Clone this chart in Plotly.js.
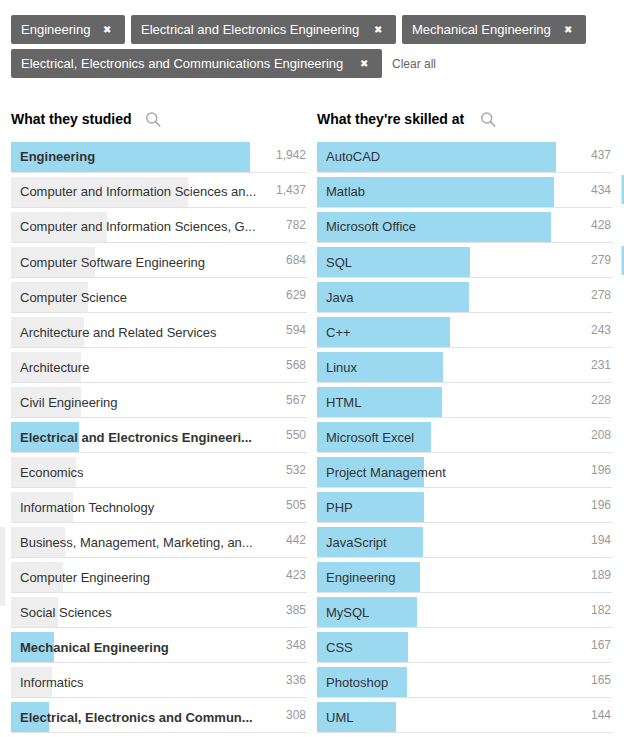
<!DOCTYPE html>
<html>
<head>
<meta charset="utf-8">
<script src="https://cdn.plot.ly/plotly-3.0.1.min.js"></script>
<style>
html,body{margin:0;padding:0;background:#fff;}
#chart{width:624px;height:737px;}
</style>
</head>
<body>
<div id="chart"></div>
<script>
// ---- data ----
const filterChips = ["Engineering", "Electrical and Electronics Engineering", "Mechanical Engineering", "Electrical, Electronics and Communications Engineering"];
const studiedTitle = "What they studied";
const skilledTitle = "What they're skilled at";
const studiedLabels = [
  "Engineering",
  "Computer and Information Sciences an...",
  "Computer and Information Sciences, G...",
  "Computer Software Engineering",
  "Computer Science",
  "Architecture and Related Services",
  "Architecture",
  "Civil Engineering",
  "Electrical and Electronics Engineeri...",
  "Economics",
  "Information Technology",
  "Business, Management, Marketing, an...",
  "Computer Engineering",
  "Social Sciences",
  "Mechanical Engineering",
  "Informatics",
  "Electrical, Electronics and Commun..."
];
const studiedValues = [1942, 1437, 782, 684, 629, 594, 568, 567, 550, 532, 505, 442, 423, 385, 348, 336, 308];
const studiedSelected = [true, false, false, false, false, false, false, false, true, false, false, false, false, false, true, false, true];
const skillLabels = ["AutoCAD", "Matlab", "Microsoft Office", "SQL", "Java", "C++", "Linux", "HTML", "Microsoft Excel", "Project Management", "PHP", "JavaScript", "Engineering", "MySQL", "CSS", "Photoshop", "UML"];
const skillValues = [437, 434, 428, 279, 278, 243, 231, 228, 208, 196, 196, 194, 189, 182, 167, 165, 144];

// ---- styling ----
const W = 624, H = 737;
const BLUE = "#9bd9f1", GREY = "#eeeeee", CHIP = "#666666", LINE = "#e2e2e2";
const FONT = "'Liberation Sans', Arial, sans-serif";
const px = x => x / W;
const py = y => 1 - y / H;
const nRows = studiedLabels.length;
const rowPitch = 35, firstCenter = 157;
const yTop = firstCenter - rowPitch / 2, yBot = firstCenter + (nRows - 0.5) * rowPitch;
const fillFrac = 239 / 296;

const fmt = v => v.toLocaleString("en-US");

const traces = [
  {
    type: "bar", orientation: "h",
    x: studiedValues, y: studiedLabels,
    xaxis: "x", yaxis: "y",
    marker: {color: studiedSelected.map(s => s ? BLUE : GREY), line: {width: 0}},
    width: 30 / 35, hoverinfo: "none"
  },
  {
    type: "bar", orientation: "h",
    x: skillValues, y: skillLabels,
    xaxis: "x2", yaxis: "y2",
    marker: {color: BLUE, line: {width: 0}},
    width: 30 / 35, hoverinfo: "none"
  }
];

const leftMax = Math.max(...studiedValues) / fillFrac;
const rightMax = Math.max(...skillValues) / (239 / 295);

const annotations = [];
const shapes = [];

function panel(labels, values, bold, xa, ya, xmax) {
  labels.forEach((lab, i) => {
    annotations.push({
      xref: xa, yref: ya, x: 0, y: lab, xanchor: "left", yanchor: "middle",
      xshift: 7, showarrow: false, text: bold && bold[i] ? "<b>" + lab + "</b>" : lab,
      font: {family: FONT, size: 13, color: "#333333"}
    });
    annotations.push({
      xref: xa, yref: ya, x: xmax, y: lab, xanchor: "right", yanchor: "middle",
      xshift: 1, yshift: 2, showarrow: false, text: fmt(values[i]),
      font: {family: FONT, size: 12, color: "#999999"}
    });
    shapes.push({
      type: "line", xref: xa + " domain", yref: ya, x0: 0, x1: 1,
      y0: i + 15.5 / 35, y1: i + 15.5 / 35,
      line: {color: LINE, width: 1}
    });
  });
}
panel(studiedLabels, studiedValues, studiedSelected, "x", "y", leftMax);
panel(skillLabels, skillValues, null, "x2", "y2", rightMax);

// headers
[[studiedTitle, 11, 151.7], [skilledTitle, 317, 486.7]].forEach(([t, x, cx]) => {
  annotations.push({xref: "paper", yref: "paper", x: px(x), y: py(119), xanchor: "left", yanchor: "middle",
    xshift: -2, showarrow: false, text: "<b>" + t + "</b>", font: {family: FONT, size: 14, color: "#000000"}});
  shapes.push({type: "circle", xref: "paper", yref: "paper",
    x0: px(cx - 5), x1: px(cx + 5), y0: py(113), y1: py(123), line: {color: "#aaaaaa", width: 1.5}});
  shapes.push({type: "line", xref: "paper", yref: "paper",
    x0: px(cx + 3.8), y0: py(121.6), x1: px(cx + 8.5), y1: py(126.5), line: {color: "#aaaaaa", width: 1.8}});
});

// filter chips
const chipBoxes = [[11, 125, 15, 44], [131, 396, 15, 44], [402, 586, 15, 44], [11, 382, 49, 78]];
function roundRect(x0, x1, y0, y1, r) {
  const X0 = px(x0), X1 = px(x1), Y0 = py(y0), Y1 = py(y1), rx = r / W, ry = r / H;
  return `M${X0 + rx},${Y0} L${X1 - rx},${Y0} Q${X1},${Y0} ${X1},${Y0 - ry} L${X1},${Y1 + ry} Q${X1},${Y1} ${X1 - rx},${Y1} L${X0 + rx},${Y1} Q${X0},${Y1} ${X0},${Y1 + ry} L${X0},${Y0 - ry} Q${X0},${Y0} ${X0 + rx},${Y0} Z`;
}
filterChips.forEach((c, i) => {
  const [x0, x1, y0, y1] = chipBoxes[i];
  shapes.push({type: "path", xref: "paper", yref: "paper", path: roundRect(x0, x1, y0, y1, 2),
    fillcolor: CHIP, line: {width: 0}});
  annotations.push({xref: "paper", yref: "paper", x: px(x0 + 10), y: py((y0 + y1) / 2), xanchor: "left", yanchor: "middle",
    xshift: -2, showarrow: false, text: c, font: {family: FONT, size: 13, color: "#ffffff"}});
  annotations.push({xref: "paper", yref: "paper", x: px(x1 - 18), y: py((y0 + y1) / 2), xanchor: "center", yanchor: "middle",
    showarrow: false, text: "✖", font: {family: "'DejaVu Sans', sans-serif", size: 10, color: "#ffffff"}});
});
annotations.push({xref: "paper", yref: "paper", x: px(392), y: py(64), xanchor: "left", yanchor: "middle",
  xshift: -2, showarrow: false, text: "Clear all", font: {family: FONT, size: 12, color: "#666666"}});

// partial elements cut off at the frame edges
shapes.push({type: "rect", xref: "paper", yref: "paper", x0: px(0), x1: px(5.5), y0: py(527), y1: py(606), fillcolor: GREY, line: {width: 0}});
shapes.push({type: "rect", xref: "paper", yref: "paper", x0: px(621.5), x1: px(624), y0: py(175), y1: py(204), fillcolor: BLUE, line: {width: 0}});
shapes.push({type: "rect", xref: "paper", yref: "paper", x0: px(621.5), x1: px(624), y0: py(246), y1: py(275), fillcolor: BLUE, line: {width: 0}});

const yDom = [py(yBot), py(yTop)];
const layout = {
  width: W, height: H,
  margin: {l: 0, r: 0, t: 0, b: 0, pad: 0},
  paper_bgcolor: "#ffffff", plot_bgcolor: "rgba(0,0,0,0)",
  showlegend: false, bargap: 0,
  xaxis: {domain: [px(11), px(307)], range: [0, leftMax], visible: false, fixedrange: true},
  yaxis: {domain: yDom, type: "category", range: [nRows - 0.5, -0.5], visible: false, fixedrange: true},
  xaxis2: {domain: [px(317), px(612)], range: [0, rightMax], visible: false, anchor: "y2", fixedrange: true},
  yaxis2: {domain: yDom, type: "category", range: [nRows - 0.5, -0.5], visible: false, anchor: "x2", fixedrange: true},
  annotations, shapes
};

Plotly.newPlot("chart", traces, layout, {displayModeBar: false, staticPlot: true});
</script>
</body>
</html>
